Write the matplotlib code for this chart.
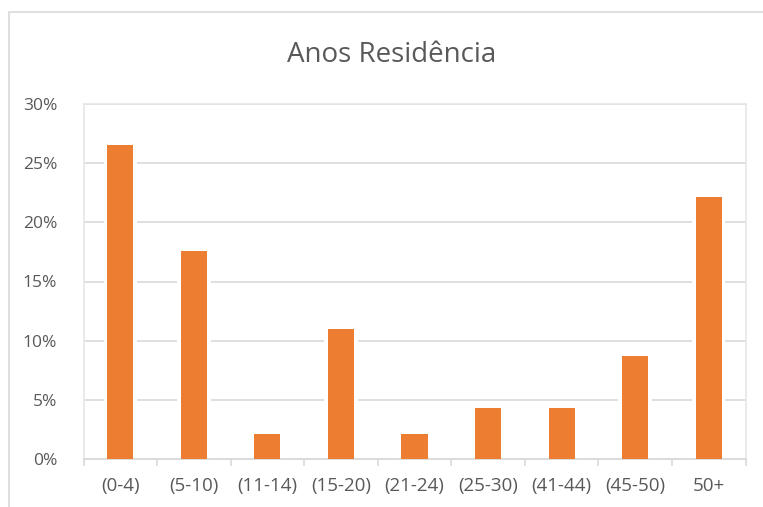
import matplotlib
matplotlib.use("Agg")
import matplotlib.pyplot as plt
from matplotlib.patches import Rectangle
from matplotlib.ticker import FuncFormatter, MultipleLocator

categories = ["(0-4)", "(5-10)", "(11-14)", "(15-20)", "(21-24)", "(25-30)", "(41-44)", "(45-50)", "50+"]
values = [26.5, 17.6, 2.1, 11.0, 2.1, 4.3, 4.3, 8.7, 22.1]
title = "Anos Residência"

W, H = 763, 507
fig = plt.figure(figsize=(W / 100, H / 100), dpi=100)
plt.rcParams['font.family'] = ['Open Sans', 'DejaVu Sans']

# outer chart border (cropped at right and bottom)
fig.patches.append(Rectangle((9 / W, -0.1), 2.0, 1 - 12 / H + 0.1, transform=fig.transFigure,
                             fill=False, edgecolor="#d9d9d9", linewidth=1.2, zorder=0))

ax = fig.add_axes([83.5 / W, 1 - 459 / H, (745.5 - 83.5) / W, (459 - 104) / H])
x = list(range(len(categories)))
bw = 0.355
ax.bar(x, values, width=bw + 0.1, color="white", zorder=2)
ax.bar(x, values, width=bw, color="#ED7D31", zorder=3)

ax.set_xlim(-0.5, len(categories) - 0.5)
ax.set_ylim(0, 30)
ax.yaxis.set_major_locator(MultipleLocator(5))
ax.yaxis.set_major_formatter(FuncFormatter(lambda v, p: f"{v:.0f}%"))
ax.grid(axis="y", color="#d9d9d9", linewidth=1.2, zorder=1)
ax.set_axisbelow(True)

ax.set_xticks(x)
ax.set_xticklabels(categories)
ax.set_xticks([i - 0.5 for i in range(len(categories) + 1)], minor=True)
ax.tick_params(axis="x", which="major", length=0, pad=13, labelsize=13.5, labelcolor="#595959")
ax.tick_params(axis="x", which="minor", length=5, color="#d9d9d9", width=1.2)
ax.tick_params(axis="y", length=0, pad=19, labelsize=12.5, labelcolor="#595959")

for s in ["left", "right", "top"]:
    ax.spines[s].set_color("#e6e6e6")
    ax.spines[s].set_linewidth(1.2)
ax.spines["bottom"].set_color("#d9d9d9")
ax.spines["bottom"].set_linewidth(1.3)

fig.text(392 / W, 1 - 55 / H, title, ha="center", va="center", fontsize=20, color="#595959")

fig.savefig("out.png", dpi=100)
